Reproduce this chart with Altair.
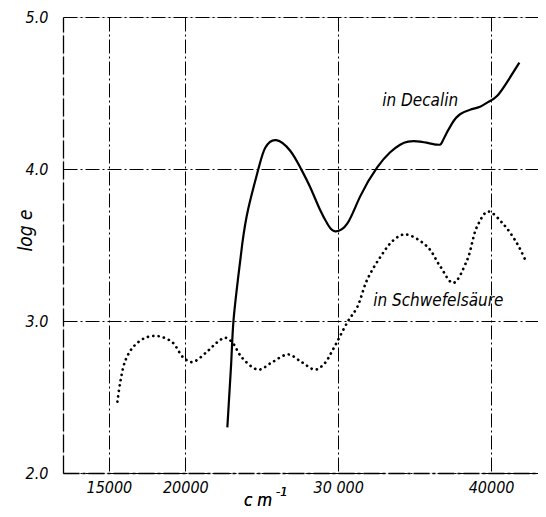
import altair as alt
import pandas as pd

# Decalin curve (solid)
dec_x = [22750, 23000, 23150, 23450, 23730, 24120, 24780, 25230, 25950, 26860,
         27520, 28170, 28820, 29350, 29800, 30590, 31440, 32550, 33400, 34050,
         34575, 35360, 36470, 36860, 37450, 37970, 38630, 39280, 39800, 40390,
         41100, 41850]
dec_y = [2.30, 2.72, 3.00, 3.28, 3.51, 3.74, 4.00, 4.14, 4.19, 4.12,
         4.01, 3.88, 3.73, 3.63, 3.59, 3.64, 3.82, 4.01, 4.11, 4.16,
         4.18, 4.18, 4.16, 4.19, 4.30, 4.36, 4.39, 4.41, 4.44, 4.48,
         4.58, 4.70]

# Schwefelsäure curve (dotted)
sch_x = [15560, 15750, 16080, 16600, 17390, 18240, 19150, 19870, 20460, 21440,
         22090, 22610, 23070, 23700, 24770, 25700, 26730, 27600, 28500, 29100,
         29700, 30650, 31240, 31890, 32750, 33600, 34380, 35820, 36670, 37520,
         38430, 39080, 39800, 40780, 41700, 42290]
sch_y = [2.47, 2.60, 2.74, 2.83, 2.89, 2.90, 2.86, 2.76, 2.73, 2.80,
         2.86, 2.89, 2.86, 2.76, 2.68, 2.73, 2.78, 2.73, 2.68, 2.72,
         2.82, 3.00, 3.09, 3.27, 3.42, 3.53, 3.57, 3.49, 3.36, 3.25,
         3.40, 3.62, 3.72, 3.64, 3.51, 3.39]

x_ticks = [15000, 20000, 30000, 40000]
y_ticks = [2.0, 3.0, 4.0, 5.0]

label_text = ["in Decalin", "in Schwefelsäure"]
label_x = [32875, 32290]
label_y = [4.45, 3.13]

FONT = "'Liberation Sans Narrow', 'DejaVu Sans Condensed', 'Liberation Sans', sans-serif"
GRID_DASH = [14, 3, 2, 3]

dec = pd.DataFrame({"x": dec_x, "y": dec_y})
sch = pd.DataFrame({"x": sch_x, "y": sch_y})
labels = pd.DataFrame({"t": label_text, "x": label_x, "y": label_y})

xscale = alt.Scale(domain=[12000, 43070], nice=False, zero=False)
yscale = alt.Scale(domain=[2, 5], nice=False, zero=False)

xaxis = alt.Axis(values=x_ticks, format="d",
                 labelExpr="datum.value == 30000 ? '30 000' : datum.label",
                 grid=True, gridDash=GRID_DASH, gridColor="black", gridWidth=1, gridOpacity=1,
                 ticks=False, domainColor="black", domainWidth=1.3, domainDash=[16, 3, 3, 3],
                 labelFont=FONT, labelFontStyle="italic", labelFontSize=16, labelColor="black",
                 labelPadding=6, title=None)
yaxis = alt.Axis(values=y_ticks, format=".1f",
                 grid=True, gridDash=GRID_DASH, gridColor="black", gridWidth=1, gridOpacity=1,
                 ticks=False, domainColor="black", domainWidth=1.3, domainDash=[18, 3],
                 labelFont=FONT, labelFontStyle="italic", labelFontSize=16, labelColor="black",
                 labelPadding=15,
                 title="log e", titleFont=FONT, titleFontStyle="italic", titleFontSize=19,
                 titleFontWeight="normal", titleColor="black",
                 titleX=-38, titleY=213, titleAngle=-90, titleAlign="center", titleBaseline="middle")

base_dec = alt.Chart(dec).mark_line(color="black", strokeWidth=2.2, interpolate="natural").encode(
    x=alt.X("x:Q", scale=xscale, axis=xaxis),
    y=alt.Y("y:Q", scale=yscale, axis=yaxis),
)
line_sch = alt.Chart(sch).mark_line(color="black", strokeWidth=2.7, strokeDash=[0.1, 5.3],
                                    strokeCap="round", interpolate="catmull-rom").encode(
    x=alt.X("x:Q", scale=xscale),
    y=alt.Y("y:Q", scale=yscale),
)
txt = alt.Chart(labels).mark_text(align="left", baseline="middle", font=FONT, fontStyle="italic",
                                  fontSize=17, color="black").encode(
    x=alt.X("x:Q", scale=xscale),
    y=alt.Y("y:Q", scale=yscale),
    text="t:N",
)
cm = alt.Chart(labels).mark_text(text="c m", align="left", baseline="alphabetic", font=FONT,
                                 fontStyle="italic", fontSize=17, color="black").encode(
    x=alt.value(181), y=alt.value(489))
sup = alt.Chart(labels).mark_text(text="-1", align="left", baseline="alphabetic", font=FONT,
                                  fontStyle="italic", fontSize=13, color="black").encode(
    x=alt.value(213), y=alt.value(479))

chart = alt.layer(base_dec, line_sch, txt, cm, sup).properties(
    width=475, height=456,
    autosize=alt.AutoSizeParams(type="none"),
    padding={"left": 55, "top": 9, "right": 0, "bottom": 36},
).configure_view(stroke=None).configure(background="white")

chart.save("out.html", embed_options={"renderer": "svg", "actions": False})
